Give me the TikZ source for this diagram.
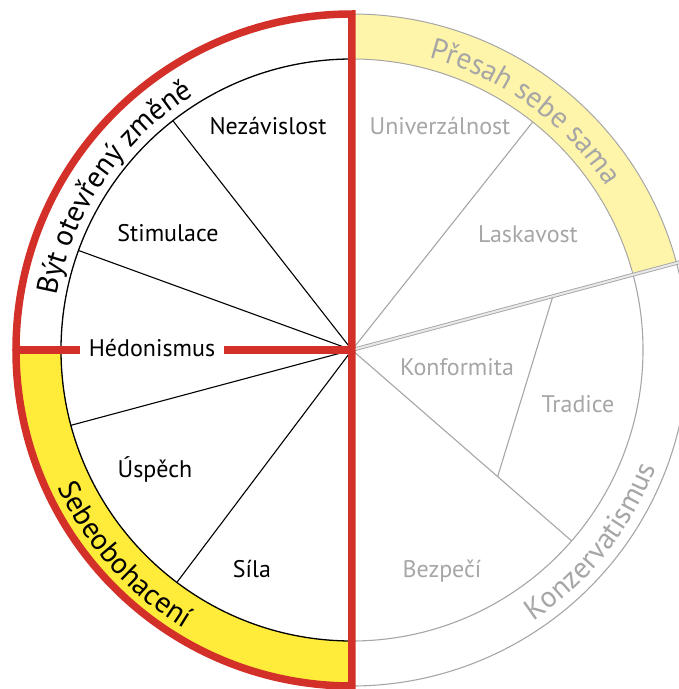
\documentclass[tikz,border=0pt]{standalone}
\usepackage{fontspec}
\setmainfont{PT Sans}
\usepackage{tikz}
\usetikzlibrary{decorations.text}

\definecolor{wheelred}{HTML}{D3302A}
\definecolor{paleyellow}{HTML}{FFF5AA}
\definecolor{sunyellow}{HTML}{FFEB3A}
\definecolor{softgrey}{HTML}{A6A6A6}
\newcommand{\ringfont}{\fontsize{29.5}{34}\selectfont}

\begin{document}
\begin{tikzpicture}[x=1pt, y=1pt,
    value/.style={
        font=\fontsize{24}{28}\selectfont,
        anchor=base,
        inner sep=0pt
    },
    faded/.style={
        value,
        text=softgrey
    },
    blackline/.style={
        draw=black,
        line width=1.1pt
    },
    greyline/.style={
        draw=softgrey,
        line width=1.1pt
    },
    redline/.style={
        draw=wheelred,
        line width=7.5pt
    },
    ringtext/.style={
        decorate,
        decoration={text along path, text align=center, text={|\ringfont|#1}}
    }
    ]

    \useasboundingbox (-352,-339) rectangle (327,350);
    \coordinate (O) at (0,0);
    \coordinate (west) at (180:336);

    \fill[sunyellow] (180:336) arc[start angle=180, end angle=270, radius=336]
        -- (270:291) arc[start angle=270, end angle=180, radius=291] -- cycle;
    \filldraw[fill=paleyellow, draw=softgrey, line width=1pt] (90:336) arc[start angle=90, end angle=15, radius=336]
        -- (15:291) arc[start angle=15, end angle=90, radius=291] -- cycle;

    \draw[line width=1.3pt] (90:291) arc[start angle=90, end angle=270, radius=291];
    \draw[greyline] (15:291) arc[start angle=15, end angle=-90, radius=291];
    \draw[greyline] (15:336) arc[start angle=15, end angle=-90, radius=336];

    \foreach \a [count=\i] in {128,160,195,233} {
        \coordinate (spoke_\i) at (\a:291);
        \draw[blackline] (O) -- (spoke_\i);
    }
    \coordinate (spoke_5) at (51.6:291);
    \coordinate (spoke_6) at (-41:291);
    \coordinate (rim) at (15:345);
    \coordinate (tradice_top) at (15:208);
    \coordinate (tradice_bot) at (-41:193);
    \draw[greyline] (O) -- (spoke_5);
    \draw[greyline] (O) -- (spoke_6);
    \draw[greyline] (tradice_top) -- (tradice_bot);
    \draw[draw=softgrey, line width=0.9pt, double=white!75!softgrey, double distance=2pt] (O) -- (rim);

    \node[value] (nezavislost) at (-84,215) {Nezávislost};
    \node[value] (stimulace) at (-184,109) {Stimulace};
    \node[value, anchor=center, text height=12pt, text depth=0pt, inner sep=9pt] (hedonismus) at (-200,0) {Hédonismus};
    \node[value] (uspech) at (-197,-127) {Úspěch};
    \node[value] (sila) at (-100,-227) {Síla};
    \node[faded] (univerzalnost) at (88,215) {Univerzálnost};
    \node[faded] (laskavost) at (176,108) {Laskavost};
    \node[faded] (konformita) at (105,-25) {Konformita};
    \node[faded] (tradice) at (226,-62) {Tradice};
    \node[faded] (bezpeci) at (90,-227) {Bezpečí};

    \draw[redline, line join=miter] (0,336) arc[start angle=90, end angle=270, radius=336] -- cycle;
    \draw[redline] (west) -- (hedonismus);
    \draw[redline] (hedonismus) -- (O);

    \path[ringtext={Být otevřený změně}] (185.7:300) arc[start angle=185.7, end angle=105.7, radius=300];
    \path[ringtext={Přesah sebe sama}, decoration={text color=softgrey}] (94:302) arc[start angle=94, end angle=14, radius=302];
    \path[ringtext={Sebeobohacení}] (182:325) arc[start angle=182, end angle=262, radius=325];
    \path[ringtext={Konzervatismus}, decoration={text color=softgrey}] (-78.7:326) arc[start angle=-78.7, end angle=1.3, radius=326];
\end{tikzpicture}
\end{document}
